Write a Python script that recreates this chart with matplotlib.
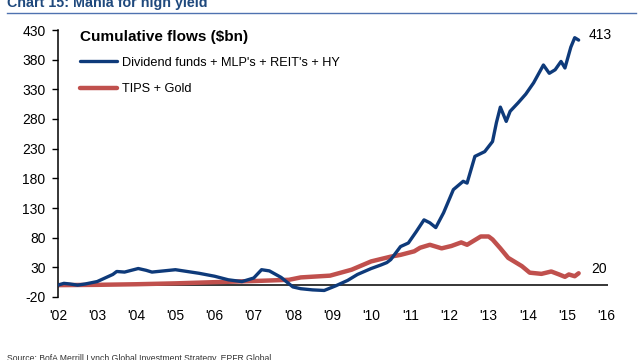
import numpy as np
import matplotlib
matplotlib.use('Agg')
import matplotlib.pyplot as plt

plt.rcParams['font.family'] = ['Liberation Sans', 'DejaVu Sans']
plt.rcParams['axes.unicode_minus'] = False

# Dividend funds + MLP's + REIT's + HY, cumulative $bn
blue_x = [2002.0, 2002.15, 2002.3, 2002.5, 2002.7, 2003.0, 2003.2, 2003.4, 2003.5, 2003.7,
          2004.05, 2004.25, 2004.4, 2004.7, 2005.0, 2005.3, 2005.6, 2006.0, 2006.35, 2006.7,
          2007.0, 2007.2, 2007.4, 2007.7, 2008.0, 2008.2, 2008.5, 2008.8, 2009.1, 2009.4,
          2009.65, 2010.0, 2010.25, 2010.4, 2010.5, 2010.75, 2010.95, 2011.15, 2011.35, 2011.5,
          2011.65, 2011.85, 2012.1, 2012.35, 2012.45, 2012.65, 2012.9, 2013.1, 2013.2, 2013.3,
          2013.45, 2013.55, 2013.75, 2013.95, 2014.15, 2014.4, 2014.55, 2014.7, 2014.85, 2014.95,
          2015.1, 2015.2, 2015.3]
blue_y = [0, 3, 2, 0, 2, 6, 12, 18, 23, 22,
          28, 25, 22, 24, 26, 23, 20, 15, 9, 6,
          12, 26, 24, 13, -3, -6, -8, -9, -1, 8,
          18, 28, 34, 38, 43, 65, 71, 90, 110, 105,
          97, 122, 161, 175, 172, 217, 225, 242, 274, 300,
          276, 293, 307, 322, 341, 371, 357, 363, 377, 366,
          401, 417, 413]

# TIPS + Gold, cumulative $bn
red_x = [2002.0, 2003.0, 2004.0, 2005.0, 2006.0, 2007.05, 2007.9, 2008.2, 2008.95, 2009.5,
         2010.0, 2010.5, 2010.75, 2011.1, 2011.25, 2011.5, 2011.6, 2011.8, 2012.05, 2012.3,
         2012.45, 2012.6, 2012.8, 2013.0, 2013.1, 2013.3, 2013.5, 2013.7, 2013.85, 2014.05,
         2014.35, 2014.6, 2014.8, 2014.95, 2015.05, 2015.2, 2015.3]
red_y = [0, 0.5, 1.5, 3, 5, 7, 9, 13, 16, 26,
         40, 48, 51, 57, 63, 68, 66, 62, 66, 72,
         68, 74, 82, 82, 77, 62, 46, 38, 32, 21,
         19, 23, 18, 14, 18, 15, 20]

fig = plt.figure(figsize=(6.4, 3.6), dpi=100)
ax = fig.add_axes([58 / 640, 1 - 297 / 360, 550 / 640, 267 / 360])

ax.plot(blue_x, blue_y, color='#0E3A7A', lw=2.4, solid_capstyle='round',
        label="Dividend funds + MLP's + REIT's + HY", zorder=3)
ax.plot(red_x, red_y, color='#C0504D', lw=3.2, solid_capstyle='round',
        label='TIPS + Gold', zorder=2)
ax.axhline(0, color='black', lw=1.1, zorder=1)

ax.set_xlim(2002, 2016.05)
ax.set_ylim(-20, 430)
ax.set_yticks(np.arange(-20, 431, 50))
ax.set_xticks(np.arange(2002, 2017))
ax.set_xticklabels(["'%02d" % (y % 100) for y in range(2002, 2017)])
ax.tick_params(axis='x', length=0, pad=9, labelsize=10)
ax.tick_params(axis='y', direction='out', length=4, width=1, labelsize=10, pad=5)
for s in ['top', 'right', 'bottom']:
    ax.spines[s].set_visible(False)
ax.spines['left'].set_linewidth(1.1)

ax.text(blue_x[-1] + 0.25, blue_y[-1] + 8, '413', fontsize=10, va='center', ha='left')
ax.text(red_x[-1] + 0.32, red_y[-1] + 7, '20', fontsize=10, va='center', ha='left')

leg = ax.legend(loc='upper left', bbox_to_anchor=(0.04, 1.0), frameon=False,
                borderpad=0, borderaxespad=0,
                fontsize=9.2, handlelength=2.9, handletextpad=0.4, labelspacing=1.15,
                title='Cumulative flows ($bn)',
                title_fontproperties={'weight': 'bold', 'size': 11})
leg._legend_box.align = 'left'
leg._legend_box.sep = 9

fig.text(7 / 640, 1 - 7 / 360, 'Chart 15: Mania for high yield', fontsize=10.3,
         fontweight='bold', color='#1F497D', va='baseline', ha='left')
fig.add_artist(plt.Line2D([7 / 640, 636 / 640], [1 - 13 / 360, 1 - 13 / 360],
                          color='#4F72B0', lw=1))
fig.text(7 / 640, 1 - 354 / 360,
         'Source: BofA Merrill Lynch Global Investment Strategy, EPFR Global',
         fontsize=6.2, color='#333333', va='top', ha='left')

fig.savefig('out.png', dpi=100)
